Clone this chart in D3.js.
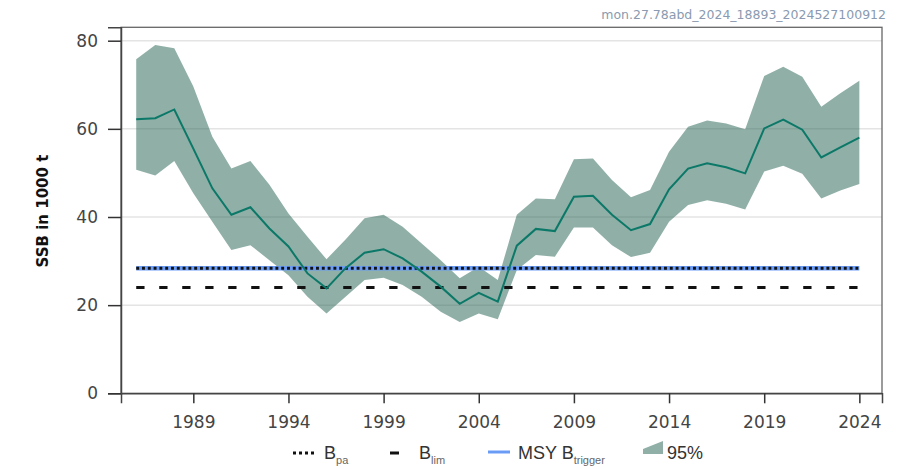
<!DOCTYPE html>
<html><head><meta charset="utf-8">
<script src="https://cdn.jsdelivr.net/npm/d3@7"></script>
<style>
body{margin:0;background:#fff;}
svg{display:block;}
</style></head>
<body>
<svg id="chart" width="897" height="469"></svg>
<script>
const years = d3.range(1986, 2025);
const ssb =  [62.2,62.4,64.4,55.5,46.5,40.5,42.2,37.4,33.3,27.2,23.8,28.4,31.9,32.7,30.6,27.6,24.2,20.3,22.8,20.8,33.5,37.3,36.8,44.6,44.8,40.5,37.0,38.4,46.3,51.0,52.2,51.3,49.9,60.1,62.1,59.8,53.5,55.8,58.0];
const low =  [50.7,49.4,52.7,45.4,38.9,32.5,33.6,30.2,26.8,21.9,18.1,21.9,25.7,26.2,24.6,21.9,18.5,16.2,18.1,16.8,28.0,31.4,31.0,37.6,37.6,33.6,30.9,31.9,38.9,42.7,43.8,43.0,41.7,50.3,51.6,49.8,44.2,46.0,47.5];
const high = [75.8,79.0,78.3,69.6,58.2,51.0,52.7,47.3,40.8,35.5,30.4,34.9,39.7,40.5,37.8,34.0,30.2,26.1,28.7,25.7,40.5,44.2,44.0,53.1,53.3,48.4,44.5,46.1,54.8,60.5,61.9,61.2,59.9,72.0,74.1,71.8,65.0,68.1,70.9];
const Bpa = 28.4, Blim = 24.0, MSYBtrigger = 28.4;
const yTicks = [0,20,40,60,80];
const xTicks = [1989,1994,1999,2004,2009,2014,2019,2024];
const yTitle = "SSB in 1000 t";
const stamp = "mon.27.78abd_2024_18893_2024527100912";

const svg = d3.select("#chart");
const L=121, R=882, T=27.3, B=393.3;
const x = d3.scaleLinear().domain([1985.2, 2025.19]).range([L, R]);
const y = d3.scaleLinear().domain([0, 83.04]).range([B, T]);

// gridlines
svg.append("g").selectAll("line").data(yTicks.slice(1)).join("line")
  .attr("x1", L).attr("x2", R).attr("y1", d=>y(d)).attr("y2", d=>y(d))
  .attr("stroke", "#e4e4e4").attr("stroke-width", 1.5);

const data = years.map((yr,i)=>({yr, m:ssb[i], lo:low[i], hi:high[i]}));

// band
svg.append("path").datum(data)
  .attr("d", d3.area().x(d=>x(d.yr)).y0(d=>y(d.lo)).y1(d=>y(d.hi)))
  .attr("fill", "#1f5f4f").attr("fill-opacity", 0.5);

// reference lines
const x0 = x(years[0]), x1 = x(years[years.length-1]);
svg.append("line").attr("x1",x0).attr("x2",x1).attr("y1",y(Blim)).attr("y2",y(Blim))
  .attr("stroke","#111").attr("stroke-width",3).attr("stroke-dasharray","8.3,14.7");
svg.append("line").attr("x1",x0).attr("x2",x1).attr("y1",y(MSYBtrigger)).attr("y2",y(MSYBtrigger))
  .attr("stroke","#6a9cf6").attr("stroke-width",4.5);
svg.append("line").attr("x1",x0).attr("x2",x1).attr("y1",y(Bpa)).attr("y2",y(Bpa))
  .attr("stroke","#111").attr("stroke-width",3).attr("stroke-dasharray","2.9,2.9");

// mean line
svg.append("path").datum(data)
  .attr("d", d3.line().x(d=>x(d.yr)).y(d=>y(d.m)))
  .attr("fill","none").attr("stroke","#0b7868").attr("stroke-width",2);

// frame
svg.append("rect").attr("x",L).attr("y",T).attr("width",R-L).attr("height",B-T)
  .attr("fill","none").attr("stroke","#666").attr("stroke-width",1.3);

// axes
const yAxis = svg.append("g").attr("transform",`translate(${L},0)`)
  .call(d3.axisLeft(y).tickValues(yTicks).tickSize(13).tickPadding(10));
const xAxis = svg.append("g").attr("transform",`translate(0,${B})`)
  .call(d3.axisBottom(x).tickValues(xTicks).tickFormat(d3.format("d")).tickSize(10).tickPadding(13));
[yAxis,xAxis].forEach(g=>{
  g.select(".domain").attr("stroke","#444").attr("stroke-width",1.5);
  g.selectAll(".tick line").attr("stroke","#333").attr("stroke-width",1.5);
  g.selectAll(".tick text").attr("fill","#444").attr("font-family","DejaVu Sans, sans-serif").attr("font-size",17);
});

// y title
svg.append("text").attr("transform","translate(48,211) rotate(-90)")
  .attr("text-anchor","middle").attr("font-family","DejaVu Sans, sans-serif")
  .attr("font-weight","bold").attr("font-size",15).attr("fill","#111").text(yTitle);

// stamp
svg.append("text").attr("x",886).attr("y",19).attr("text-anchor","end")
  .attr("font-family","DejaVu Sans, sans-serif").attr("font-size",12.5)
  .attr("fill","#8a9ab0").text(stamp);

// legend
const lg = svg.append("g").attr("font-family","Liberation Sans, Arial, sans-serif").attr("fill","#333");
const ly = 453;
lg.append("line").attr("x1",293).attr("x2",315).attr("y1",ly).attr("y2",ly)
  .attr("stroke","#111").attr("stroke-width",3).attr("stroke-dasharray","3,3");
let t = lg.append("text").attr("x",324).attr("y",459).attr("font-size",18);
t.append("tspan").text("B");
t.append("tspan").attr("dy",5).attr("font-size",11).attr("fill","#666").text("pa");

lg.append("line").attr("x1",390).attr("x2",399).attr("y1",ly).attr("y2",ly)
  .attr("stroke","#111").attr("stroke-width",3);
t = lg.append("text").attr("x",419).attr("y",459).attr("font-size",18);
t.append("tspan").text("B");
t.append("tspan").attr("dy",5).attr("font-size",11).attr("fill","#666").text("lim");

lg.append("line").attr("x1",488).attr("x2",510).attr("y1",ly-1).attr("y2",ly-1)
  .attr("stroke","#6a9cf6").attr("stroke-width",3);
t = lg.append("text").attr("x",518).attr("y",459).attr("font-size",18);
t.append("tspan").text("MSY B");
t.append("tspan").attr("dy",5).attr("font-size",11).attr("fill","#666").text("trigger");

lg.append("polygon").attr("points","643,454 643,449 663,441 663,454")
  .attr("fill","#1f5f4f").attr("fill-opacity",0.5);
lg.append("text").attr("x",667).attr("y",459).attr("font-size",18).text("95%");
</script>
</body></html>
